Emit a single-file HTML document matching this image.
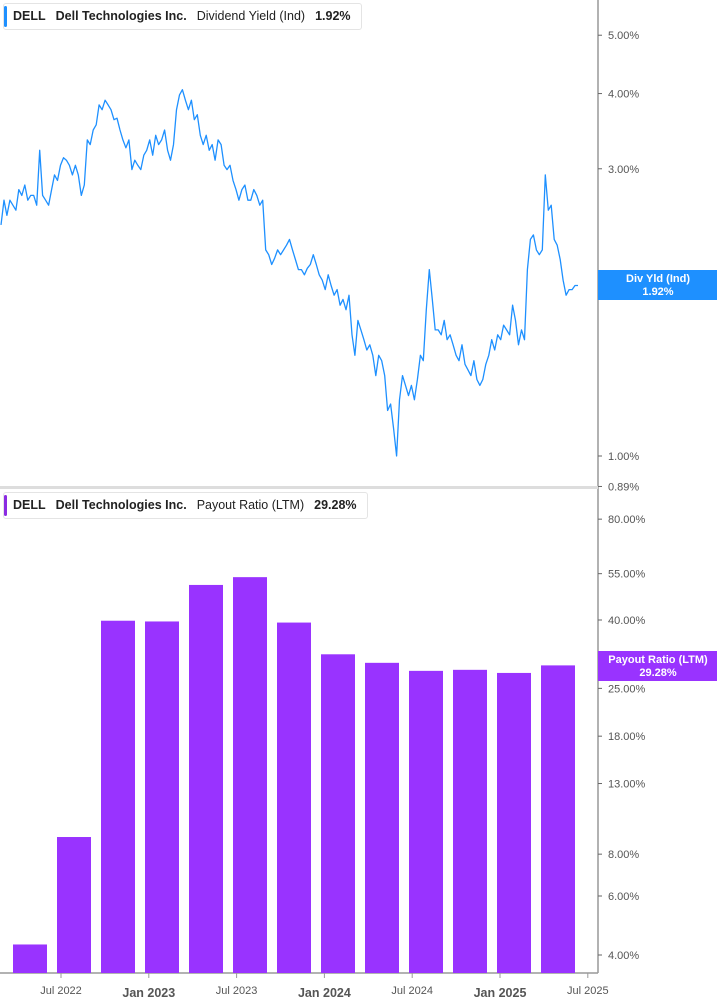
<!DOCTYPE html>
<html><head><meta charset="utf-8"><style>
body{margin:0;background:#fff;font-family:"Liberation Sans",sans-serif;}
#wrap{position:relative;width:717px;height:1005px;overflow:hidden;}
.legend{position:absolute;left:3px;height:25px;border:1px solid #e4e4e4;border-radius:3px;background:#fff;font-size:12.5px;line-height:25px;color:#222;white-space:nowrap;padding-left:9px;padding-right:10px;}
.legend .bar{position:absolute;left:0;top:2px;width:3px;height:21px;border-radius:2px;}
.legend b{font-weight:bold;margin-right:10px;}
.legend span{margin-right:10px;}
</style></head><body>
<div id="wrap">
<svg id="svg" width="717" height="1005" style="position:absolute;left:0;top:0"></svg>
<div class="legend" style="top:3px;"><div class="bar" style="background:#1e90ff"></div><b>DELL</b><b>Dell Technologies Inc.</b><span>Dividend Yield (Ind)</span><b style="margin-right:0">1.92%</b></div>
<div class="legend" style="top:492px;"><div class="bar" style="background:#8a2be2"></div><b>DELL</b><b>Dell Technologies Inc.</b><span>Payout Ratio (LTM)</span><b style="margin-right:0">29.28%</b></div>
</div>
<script>
const yieldValues=[2.42,2.66,2.51,2.66,2.61,2.56,2.77,2.71,2.82,2.66,2.71,2.71,2.61,3.22,2.71,2.66,2.61,2.77,2.93,2.87,3.04,3.13,3.10,3.04,2.93,3.04,2.93,2.71,2.82,3.35,3.29,3.48,3.55,3.83,3.76,3.90,3.83,3.76,3.62,3.64,3.48,3.35,3.25,3.35,2.99,3.10,3.04,2.99,3.16,3.22,3.35,3.16,3.41,3.29,3.35,3.48,3.22,3.10,3.29,3.76,3.98,4.06,3.90,3.76,3.90,3.62,3.69,3.41,3.29,3.41,3.22,3.29,3.10,3.35,3.29,3.04,2.99,3.04,2.87,2.77,2.66,2.77,2.82,2.66,2.66,2.77,2.71,2.61,2.66,2.20,2.16,2.08,2.13,2.20,2.16,2.20,2.24,2.29,2.20,2.12,2.04,2.04,2.00,2.05,2.08,2.16,2.08,2.00,1.96,1.89,2.00,1.92,1.85,1.89,1.78,1.82,1.75,1.85,1.59,1.47,1.68,1.62,1.56,1.50,1.53,1.47,1.36,1.47,1.44,1.36,1.19,1.22,1.11,1.00,1.24,1.36,1.31,1.26,1.31,1.24,1.34,1.47,1.44,1.75,2.04,1.82,1.62,1.62,1.59,1.68,1.56,1.59,1.53,1.47,1.44,1.53,1.42,1.39,1.36,1.44,1.34,1.31,1.34,1.42,1.47,1.56,1.50,1.59,1.56,1.65,1.62,1.59,1.78,1.68,1.53,1.62,1.56,2.04,2.29,2.33,2.20,2.16,2.20,2.93,2.56,2.61,2.29,2.24,2.12,1.96,1.85,1.89,1.89,1.92,1.92];
const yieldTicks=[5,4,3,1,0.89];
const yieldTickLabels=["5.00%","4.00%","3.00%","1.00%","0.89%"];
const quarters=["Q1 22","Q2 22","Q3 22","Q4 22","Q1 23","Q2 23","Q3 23","Q4 23","Q1 24","Q2 24","Q3 24","Q4 24","Q1 25"];
const payoutValues=[4.3,9.0,39.8,39.6,50.9,53.7,39.3,31.6,29.8,28.2,28.4,27.8,29.28];
const payoutTicks=[80,55,40,25,18,13,8,6,4];
const payoutTickLabels=["80.00%","55.00%","40.00%","25.00%","18.00%","13.00%","8.00%","6.00%","4.00%"];
const xLabels=["Jul 2022","Jan 2023","Jul 2023","Jan 2024","Jul 2024","Jan 2025","Jul 2025"];
const xLabelBold=[false,true,false,true,false,true,false];

const NS="http://www.w3.org/2000/svg";
const svg=document.getElementById('svg');
function mk(t,a,p){const e=document.createElementNS(NS,t);for(const k in a)e.setAttribute(k,a[k]);(p||svg).appendChild(e);return e;}
const yY=v=>456-602*Math.log10(v);
const yP=v=>955-335*Math.log10(v/4);
const xLine=i=>1+i*(577/(yieldValues.length-1));
const xBar=i=>13+i*44;
const xLab=i=>61+i*87.8;

// frame
let e=mk('line',{x1:598,y1:0,x2:598,y2:973,stroke:'#999','stroke-width':1.5});

e=mk('line',{x1:0,y1:487.5,x2:598,y2:487.5,stroke:'#ddd','stroke-width':3});

e=mk('line',{x1:0,y1:973,x2:598,y2:973,stroke:'#999','stroke-width':1.5});


// yield ticks
yieldTicks.forEach((v,i)=>{const y=yY(v);
 let t=mk('line',{x1:598,y1:y,x2:602,y2:y,stroke:'#666'});
 
 let l=mk('text',{x:608,y:y+4,'font-size':11,fill:'#555'});l.textContent=yieldTickLabels[i];
 });
// payout ticks
payoutTicks.forEach((v,i)=>{const y=yP(v);
 let t=mk('line',{x1:598,y1:y,x2:602,y2:y,stroke:'#666'});
 
 let l=mk('text',{x:608,y:y+4,'font-size':11,fill:'#555'});l.textContent=payoutTickLabels[i];
 });
// x labels
xLabels.forEach((s,i)=>{const x=xLab(i);
 let t=mk('line',{x1:x,y1:973,x2:x,y2:978,stroke:'#999'});
 
 let l=mk('text',{x:x,y:xLabelBold[i]?997:994,'text-anchor':'middle','font-size':xLabelBold[i]?12.5:11,'font-weight':xLabelBold[i]?'bold':'normal',fill:'#555'});l.textContent=s;
 });

// line
const d=yieldValues.map((v,i)=>(i?'L':'M')+xLine(i).toFixed(1)+' '+yY(v).toFixed(1)).join(' ');
e=mk('path',{d:d,fill:'none',stroke:'#1e90ff','stroke-width':1.3,'stroke-linejoin':'round'});


// bars
payoutValues.forEach((v,i)=>{const y=yP(v);
 let b=mk('rect',{x:xBar(i),y:y,width:34,height:973-y,fill:'#9933ff'});
 });

// value badges
function badge(y,col,t1,t2,name){const g=mk('g',{});
 
 mk('rect',{x:598,y:y,width:119,height:30,fill:col},g);
 let a=mk('text',{x:658,y:y+12,'text-anchor':'middle','font-size':11,'font-weight':'bold',fill:'#fff'},g);a.textContent=t1;
 let b=mk('text',{x:658,y:y+25,'text-anchor':'middle','font-size':11,'font-weight':'bold',fill:'#fff'},g);b.textContent=t2;}
let gl=mk('text',{x:608,y:yY(2)+4,'font-size':11,fill:'#555'});gl.textContent="2.00%";

badge(270,'#1e90ff','Div Yld (Ind)',yieldValues[yieldValues.length-1].toFixed(2)+'%','dividend-yield-badge');
badge(651,'#9933ff','Payout Ratio (LTM)',payoutValues[payoutValues.length-1].toFixed(2)+'%','payout-ratio-badge');
</script>
</body></html>
